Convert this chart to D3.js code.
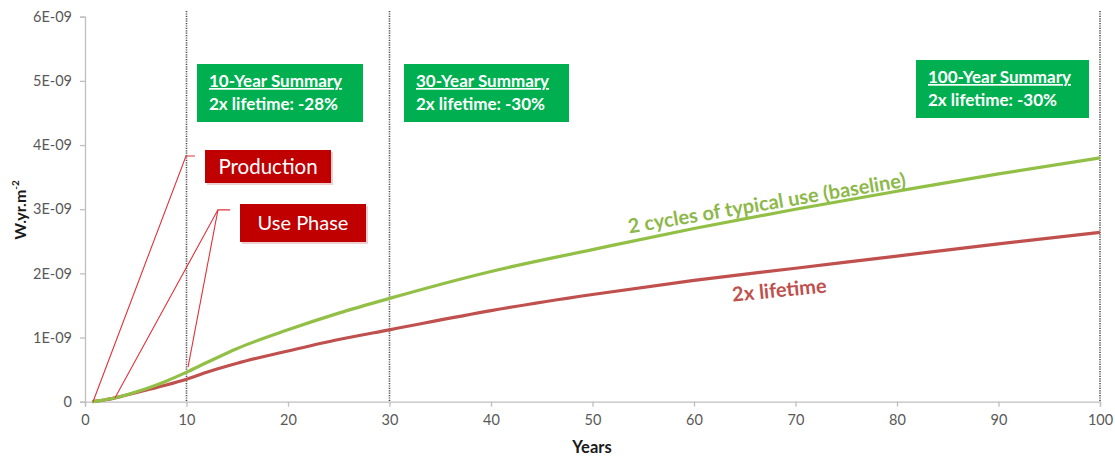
<!DOCTYPE html>
<html><head><meta charset="utf-8">
<script src="https://cdn.jsdelivr.net/npm/d3@7"></script>
<style>body{margin:0;background:#fff;} svg{display:block;font-family:Lato, "Open Sans", sans-serif;}</style>
</head><body>
<svg id="c" width="1115" height="457"></svg>
<script>
const years = [0.7, 2, 3.5, 5, 6.5, 8, 10, 12, 15, 20, 25, 30, 40, 50, 60, 70, 80, 90, 100];
const baseline = [0, 0.03, 0.08, 0.15, 0.23, 0.32, 0.46, 0.61, 0.83, 1.12, 1.38, 1.61, 2.03, 2.37, 2.70, 3.0, 3.28, 3.55, 3.80].map(v => v * 1e-9);
const lifetime = [0, 0.03, 0.08, 0.14, 0.2, 0.26, 0.35, 0.46, 0.6, 0.79, 0.97, 1.12, 1.42, 1.67, 1.89, 2.08, 2.27, 2.46, 2.64].map(v => v * 1e-9);
const xTicks = [0, 10, 20, 30, 40, 50, 60, 70, 80, 90, 100];
const yTicks = [0, 1e-9, 2e-9, 3e-9, 4e-9, 5e-9, 6e-9];
const yTickLabels = ["0", "1E-09", "2E-09", "3E-09", "4E-09", "5E-09", "6E-09"];
const markerYears = [10, 30, 100];
const summaries = [
  {title: "10-Year Summary", text: "2x lifetime: -28%"},
  {title: "30-Year Summary", text: "2x lifetime: -30%"},
  {title: "100-Year Summary", text: "2x lifetime: -30%"}
];
const productionLeader = [[0.79, 0], [9.95, 3.83e-9], [10.84, 3.83e-9]];
const useLeaderA = [[2.96, 0.06e-9], [13.1, 2.99e-9], [14.3, 2.99e-9]];
const useLeaderB = [[10.15, 0.54e-9], [13.1, 2.99e-9]];

const svg = d3.select("#c");
const x = d3.scaleLinear().domain([0, 100]).range([85, 1100]);
const y = d3.scaleLinear().domain([0, 6e-9]).range([401.7, 16.7]);
const axisCol = "#bfbfbf", tickTxt = "#595959";

// axes
const xa = svg.append("g").attr("transform", `translate(0,${y(0)})`)
  .call(d3.axisBottom(x).tickValues(xTicks).tickSize(5).tickPadding(8).tickFormat(d3.format("d")));
const ya = svg.append("g").attr("transform", `translate(${x(0)},0)`)
  .call(d3.axisLeft(y).tickValues(yTicks).tickSize(5).tickPadding(8).tickFormat((d, i) => yTickLabels[i]));
[xa, ya].forEach(g => {
  g.select(".domain").attr("stroke", axisCol).attr("stroke-width", 1.3);
  g.selectAll(".tick line").attr("stroke", axisCol).attr("stroke-width", 1.3);
  g.selectAll("text").attr("fill", tickTxt).style("font-size", "14.5px").style("font-family", "Lato, sans-serif");
});

// vertical dotted markers
svg.selectAll(".vm").data(markerYears).join("line")
  .attr("x1", d => x(d)).attr("x2", d => x(d)).attr("y1", 11).attr("y2", y(0))
  .attr("stroke", "#4d4d4d").attr("stroke-width", 1.6).attr("stroke-dasharray", "1.2,1.2");

// axis titles
svg.append("text").attr("x", 592).attr("y", 453).attr("text-anchor", "middle")
  .style("font-size", "16.5px").style("font-weight", "bold").attr("fill", "#1a1a1a").text("Years");
const yl = svg.append("text").attr("transform", "translate(26,210) rotate(-90)").attr("text-anchor", "middle")
  .style("font-size", "16px").style("font-weight", "bold").attr("fill", "#1a1a1a");
yl.append("tspan").text("W.yr.m");
yl.append("tspan").attr("dy", -7).style("font-size", "10px").text("-2");

// series
const line = d3.line().x(d => x(d[0])).y(d => y(d[1])).curve(d3.curveMonotoneX);
svg.append("path").datum(years.map((t, i) => [t, lifetime[i]])).attr("d", line)
  .attr("fill", "none").attr("stroke", "#c0504d").attr("stroke-width", 3.2);
svg.append("path").datum(years.map((t, i) => [t, baseline[i]])).attr("d", line)
  .attr("fill", "none").attr("stroke", "#92c047").attr("stroke-width", 3.2);

// leaders
const leader = d3.line().x(d => x(d[0])).y(d => y(d[1]));
[productionLeader, useLeaderA, useLeaderB].forEach(p => {
  svg.append("path").attr("d", leader(p)).attr("fill", "none").attr("stroke", "#e0323c").attr("stroke-width", 1.1);
});

// red label boxes
const redBoxes = [
  {label: "Production", x0: 205, y0: 150, w: 126, h: 33, size: 20.5},
  {label: "Use Phase", x0: 240, y0: 204, w: 126, h: 38, size: 20}
];
redBoxes.forEach(b => {
  svg.append("rect").attr("x", b.x0 + 2).attr("y", b.y0 + 2).attr("width", b.w).attr("height", b.h).attr("fill", "#d9a0a0").attr("opacity", 0.5);
  svg.append("rect").attr("x", b.x0).attr("y", b.y0).attr("width", b.w).attr("height", b.h).attr("fill", "#c00000");
  svg.append("text").attr("x", b.x0 + b.w / 2).attr("y", b.y0 + b.h / 2 + 7).attr("text-anchor", "middle")
    .attr("fill", "#fff").style("font-size", b.size + "px").text(b.label);
});

// green summary boxes
const greenPos = [{x0: 197, y0: 64, w: 166, h: 58}, {x0: 404, y0: 64, w: 165, h: 58}, {x0: 916, y0: 60, w: 173, h: 58}];
summaries.forEach((s, i) => {
  const p = greenPos[i];
  svg.append("rect").attr("x", p.x0).attr("y", p.y0).attr("width", p.w).attr("height", p.h).attr("fill", "#00b050");
  svg.append("text").attr("x", p.x0 + 12).attr("y", p.y0 + 23).attr("fill", "#fff")
    .style("font-size", "17px").style("font-weight", "bold").style("text-decoration", "underline").text(s.title);
  svg.append("text").attr("x", p.x0 + 12).attr("y", p.y0 + 46).attr("fill", "#fff")
    .style("font-size", "17px").style("font-weight", "bold").text(s.text);
});

// series labels
svg.append("text").attr("transform", "translate(768,210) rotate(-9.6)").attr("text-anchor", "middle")
  .attr("fill", "#8db84a").style("font-size", "20px").style("font-weight", "bold").text("2 cycles of typical use (baseline)");
svg.append("text").attr("transform", "translate(780,297) rotate(-5.5)").attr("text-anchor", "middle")
  .attr("fill", "#c0504d").style("font-size", "20px").style("font-weight", "bold").text("2x lifetime");
</script>
</body></html>
